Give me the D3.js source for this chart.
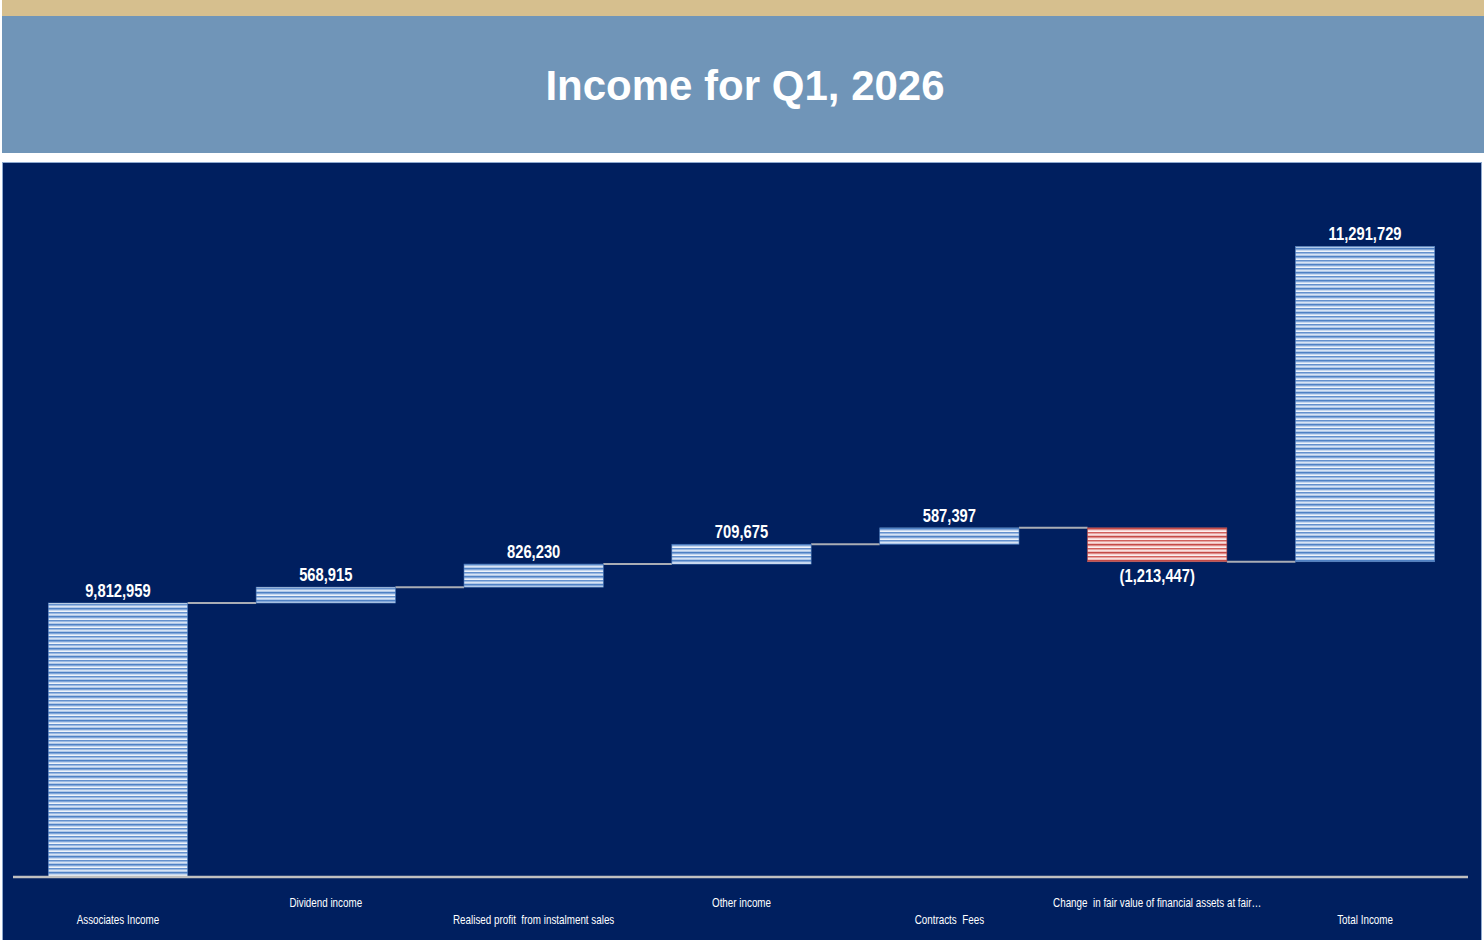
<!DOCTYPE html>
<html>
<head>
<meta charset="utf-8">
<script src="https://cdn.jsdelivr.net/npm/d3@7"></script>
<style>
  html, body { margin: 0; padding: 0; background: #ffffff; }
  svg { display: block; }
</style>
</head>
<body>
<svg id="chart" width="1484" height="940"></svg>
<script>
const categories = [
  "Associates Income",
  "Dividend income",
  "Realised profit  from instalment sales",
  "Other income",
  "Contracts  Fees",
  "Change  in fair value of financial assets at fair…",
  "Total Income"
]
const values = [9812959, 568915, 826230, 709675, 587397, -1213447, 11291729]
const kinds = ["start", "step", "step", "step", "step", "step", "total"]

const width = 1484,
  height = 940,
  axisY = 877,
  squeeze = 0.82 // narrow look of the original labels

const svg = d3.select("#chart")

// header bands
svg.append("rect").attr("x", 2).attr("y", 0).attr("width", width - 2).attr("height", 16).attr("fill", "#d6bf8e")
svg.append("rect").attr("x", 2).attr("y", 16).attr("width", width - 2).attr("height", 137).attr("fill", "#7095b8")
svg
  .append("text")
  .attr("x", 745)
  .attr("y", 100)
  .attr("text-anchor", "middle")
  .attr("fill", "#ffffff")
  .style("font-family", "'Liberation Sans', Arial, sans-serif")
  .style("font-weight", "bold")
  .style("font-size", "42px")
  .text("Income for Q1, 2026")

// chart panel
svg
  .append("rect")
  .attr("x", 2.5)
  .attr("y", 162.5)
  .attr("width", width - 5)
  .attr("height", 790)
  .attr("fill", "#001f5f")
  .attr("stroke", "#8ea9cf")
  .attr("stroke-width", 1)

// striped fills
const defs = svg.append("defs")
const stripes = (id, rows) => {
  const p = defs
    .append("pattern")
    .attr("id", id)
    .attr("patternUnits", "userSpaceOnUse")
    .attr("width", 10)
    .attr("height", rows.length)
  rows.forEach((c, i) => {
    p.append("rect").attr("x", 0).attr("y", i).attr("width", 10).attr("height", 1).attr("fill", c)
  })
}
stripes("blueStripes", ["#4f81c4", "#82a7da", "#c5d7ef", "#eef3fa", "#6490cd", "#9ab9e2", "#d7e3f4", "#b0c8e9"])
stripes("redStripes", ["#c44a47", "#de8a88", "#f5d3d2", "#fcefef", "#d0605d", "#e7a2a0", "#f8dfde", "#efbebd"])

// waterfall geometry
let running = 0
const bars = categories.map((name, i) => {
  const v = values[i]
  let y0, y1
  if (kinds[i] === "start") {
    y0 = 0
    y1 = v
  } else {
    y0 = running
    y1 = running + v
  }
  if (kinds[i] !== "total") running += v
  return { name, value: v, y0, y1, end: running }
})

const x = d3.scaleBand().domain(categories).range([14, 1469]).paddingInner(0.33).paddingOuter(0.165)
const y = d3.scaleLinear().domain([0, 25000000]).range([axisY, 179])

const fmt = (v) => (v < 0 ? "(" + d3.format(",")(-v) + ")" : d3.format(",")(v))

// connectors
const g = svg.append("g")
g.selectAll("line.conn")
  .data(bars.slice(0, -1))
  .join("line")
  .attr("class", "conn")
  .attr("x1", (d) => x(d.name) + x.bandwidth())
  .attr("x2", (d, i) => x(categories[i + 1]))
  .attr("y1", (d) => y(d.end))
  .attr("y2", (d) => y(d.end))
  .attr("stroke", "#a9adb5")
  .attr("stroke-width", 2)

// bars
g.selectAll("rect.bar")
  .data(bars)
  .join("rect")
  .attr("class", "bar")
  .attr("x", (d) => x(d.name))
  .attr("width", x.bandwidth())
  .attr("y", (d) => y(Math.max(d.y0, d.y1)))
  .attr("height", (d) => Math.abs(y(d.y0) - y(d.y1)))
  .attr("fill", (d) => (d.value < 0 ? "url(#redStripes)" : "url(#blueStripes)"))
  .attr("stroke", (d) => (d.value < 0 ? "#c0504d" : "#4f7fbf"))
  .attr("stroke-width", 0.6)

// value labels
g.selectAll("text.val")
  .data(bars)
  .join("text")
  .attr("class", "val")
  .attr("transform", (d) => {
    const cx = x(d.name) + x.bandwidth() / 2
    const ty = d.value < 0 ? y(Math.min(d.y0, d.y1)) + 20 : y(Math.max(d.y0, d.y1)) - 6
    return `translate(${cx},${ty}) scale(${squeeze},1)`
  })
  .attr("text-anchor", "middle")
  .attr("fill", "#ffffff")
  .style("font-family", "'Liberation Sans', Arial, sans-serif")
  .style("font-weight", "bold")
  .style("font-size", "18px")
  .text((d) => fmt(d.value))

// axis baseline
svg
  .append("line")
  .attr("x1", 13)
  .attr("x2", 1468)
  .attr("y1", axisY)
  .attr("y2", axisY)
  .attr("stroke", "#c0c0c0")
  .attr("stroke-width", 2.5)

// category labels, staggered
const axis = d3.axisBottom(x).tickSize(0).tickPadding(0)
const ax = svg.append("g").attr("transform", `translate(0,${axisY})`).call(axis)
ax.select(".domain").remove()
ax.selectAll(".tick text")
  .attr("y", null)
  .attr("dy", null)
  .attr("transform", (d, i) => `translate(0,${i % 2 === 0 ? 47 : 30}) scale(${squeeze},1)`)
  .attr("fill", "#ffffff")
  .style("font-family", "'Liberation Sans', Arial, sans-serif")
  .style("font-size", "12px")
  .style("white-space", "pre")
</script>
</body>
</html>
